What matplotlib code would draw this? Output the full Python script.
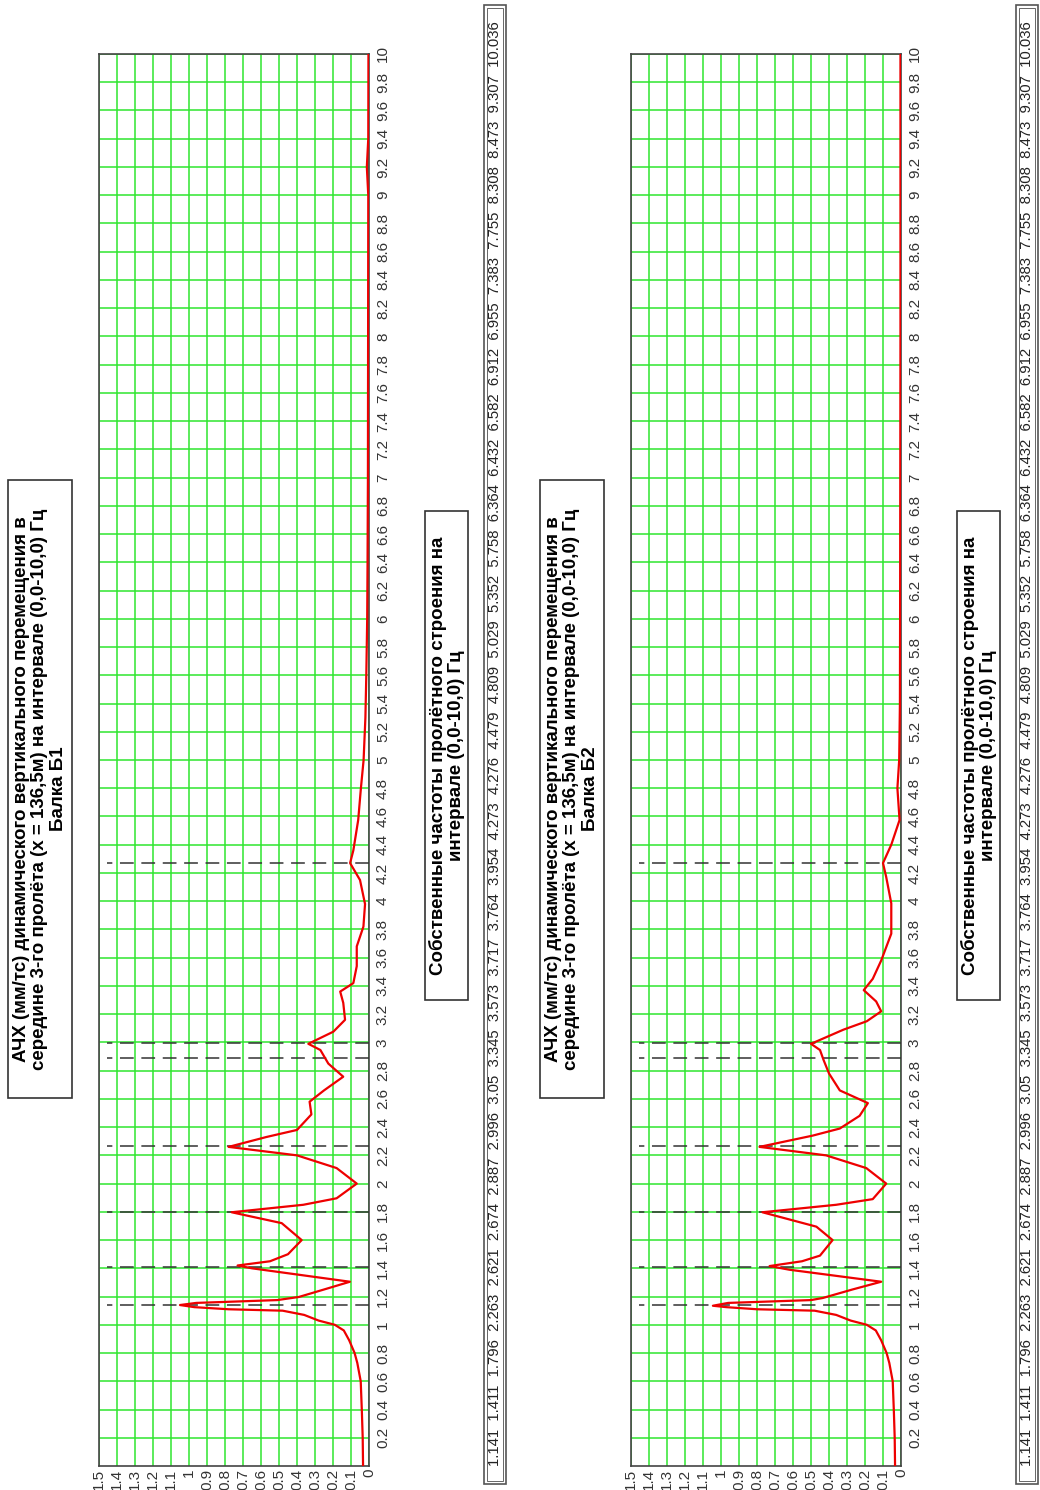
import numpy as np
import matplotlib.pyplot as plt
from matplotlib.patches import Rectangle

# frequency response, beam B1 (Hz -> mm/tc)
freq_b1 = [0, 0.2, 0.4, 0.6, 0.73, 0.8, 0.89, 0.96, 1.0, 1.03, 1.07, 1.1, 1.11, 1.125,
           1.14, 1.155, 1.175, 1.197, 1.25, 1.305, 1.40, 1.42, 1.45, 1.50, 1.60, 1.72,
           1.797, 1.85, 1.896, 2.0, 2.11, 2.2, 2.26, 2.33, 2.38, 2.49, 2.58, 2.66, 2.757,
           2.85, 2.946, 2.99, 3.076, 3.16, 3.28, 3.36, 3.42, 3.54, 3.68, 3.82, 3.98, 4.15,
           4.27, 4.36, 4.575, 4.8, 5.0, 5.3, 5.6, 6.0, 6.4, 7.0, 8.0, 9.0, 9.2, 9.4, 10.0]
amp_b1 = [0.033, 0.035, 0.04, 0.046, 0.065, 0.08, 0.11, 0.14, 0.19, 0.28, 0.36, 0.48,
          0.78, 0.97, 1.05, 0.96, 0.51, 0.39, 0.25, 0.106, 0.65, 0.73, 0.55, 0.45, 0.374,
          0.485, 0.763, 0.365, 0.18, 0.068, 0.18, 0.40, 0.78, 0.57, 0.40, 0.32, 0.33, 0.25,
          0.143, 0.226, 0.27, 0.337, 0.198, 0.133, 0.143, 0.16, 0.087, 0.068, 0.068, 0.031,
          0.022, 0.05, 0.105, 0.087, 0.06, 0.045, 0.03, 0.02, 0.015, 0.01, 0.008, 0.006,
          0.005, 0.004, 0.012, 0.004, 0.003]

# frequency response, beam B2
freq_b2 = [0, 0.2, 0.4, 0.6, 0.73, 0.8, 0.89, 0.96, 1.0, 1.03, 1.07, 1.1, 1.11, 1.125,
           1.135, 1.155, 1.175, 1.19, 1.25, 1.305, 1.39, 1.416, 1.45, 1.49, 1.60, 1.695,
           1.797, 1.85, 1.89, 2.0, 2.11, 2.2, 2.26, 2.34, 2.39, 2.48, 2.57, 2.66, 2.78,
           2.875, 2.946, 2.99, 3.09, 3.15, 3.22, 3.29, 3.37, 3.45, 3.58, 3.77, 3.985, 4.17,
           4.27, 4.40, 4.575, 4.8, 5.0, 5.4, 6.0, 7.0, 8.0, 9.0, 10.0]
amp_b2 = [0.033, 0.035, 0.04, 0.046, 0.065, 0.08, 0.11, 0.14, 0.19, 0.28, 0.36, 0.48,
          0.8, 0.97, 1.045, 0.96, 0.5, 0.434, 0.27, 0.11, 0.62, 0.73, 0.55, 0.45, 0.38,
          0.47, 0.77, 0.36, 0.157, 0.082, 0.193, 0.416, 0.786, 0.49, 0.34, 0.23, 0.184,
          0.34, 0.40, 0.43, 0.45, 0.50, 0.32, 0.19, 0.11, 0.138, 0.207, 0.157, 0.11, 0.054,
          0.054, 0.082, 0.10, 0.054, 0.008, 0.02, 0.01, 0.006, 0.005, 0.004, 0.003, 0.003,
          0.003]

# natural frequencies of the span structure
natural_freqs = [1.141, 1.411, 1.796, 2.263, 2.621, 2.674, 2.887, 2.996, 3.05, 3.345,
                 3.573, 3.717, 3.764, 3.954, 4.273, 4.276, 4.479, 4.809, 5.029, 5.352,
                 5.758, 6.364, 6.432, 6.582, 6.912, 6.955, 7.383, 7.755, 8.308, 8.473,
                 9.307, 10.036]
marked_freqs = [1.141, 1.411, 1.796, 2.263, 2.887, 2.996, 4.273]

amp_ticks = np.round(np.arange(0, 1.51, 0.1), 1)
freq_ticks = np.round(np.arange(0.2, 10.01, 0.2), 1)

titles = ["АЧХ (мм/тс) динамического вертикального перемещения в\n"
          "середине 3-го пролёта (x = 136,5м) на интервале (0,0-10,0) Гц\nБалка Б1",
          "АЧХ (мм/тс) динамического вертикального перемещения в\n"
          "середине 3-го пролёта (x = 136,5м) на интервале (0,0-10,0) Гц\nБалка Б2"]
freq_title = "Собственные частоты пролётного строения на\nинтервале (0,0-10,0) Гц"

W, H = 1040, 1490
narrow = ['Liberation Sans Narrow', 'Liberation Sans', 'DejaVu Sans']
bold_font = ['Liberation Sans', 'DejaVu Sans']


def px_rect(fig, x0, y0, x1, y1, lw=1.2, color='#333333'):
    # rectangle given in pixel coordinates measured from the top-left corner
    r = Rectangle((x0 / W, 1 - y1 / H), (x1 - x0) / W, (y1 - y0) / H,
                  transform=fig.transFigure, fill=False, lw=lw, ec=color)
    fig.add_artist(r)


def draw_panel(fig, dx, freq, amp, title):
    ax = fig.add_axes([(99 + dx) / W, 1 - 1466 / H, 270 / W, 1412 / H])
    ax.set_xlim(1.5, 0)
    ax.set_ylim(0, 10)
    ax.set_xticks(amp_ticks)
    ax.set_xticklabels(['%g' % v for v in amp_ticks], rotation=90,
                       family=narrow, fontsize=11, color='#333333')
    ax.set_yticks(freq_ticks)
    ax.set_yticklabels(['%g' % v for v in freq_ticks], rotation=90, va='center',
                       family=narrow, fontsize=11, color='#333333')
    ax.yaxis.tick_right()
    ax.tick_params(length=0)
    ax.tick_params(axis='x', pad=2)
    ax.tick_params(axis='y', pad=5)
    ax.grid(True, color='#2fe62f', lw=1.1)
    ax.set_axisbelow(True)
    for s in ax.spines.values():
        s.set_color('#444444')
        s.set_linewidth(1.2)

    ax.hlines(marked_freqs, 0, 1.456, colors='#333333', lw=1.1,
              linestyles=(0, (9, 5)), zorder=3)
    ax.plot(amp, freq, color='#ee0000', lw=1.6, zorder=4)

    # title box
    px_rect(fig, 8 + dx, 480, 72 + dx, 1098)
    fig.text((40 + dx) / W, 1 - 789 / H, title, rotation=90, ha='center', va='center',
             multialignment='center', family=bold_font, fontweight='bold',
             fontsize=13.5, linespacing=1.08)

    # natural frequencies caption
    px_rect(fig, 425 + dx, 511, 468 + dx, 1000)
    fig.text((446.5 + dx) / W, 1 - 755.5 / H, freq_title, rotation=90, ha='center',
             va='center', multialignment='center', family=bold_font,
             fontweight='bold', fontsize=13.5, linespacing=1.08)

    # strip with the list of natural frequencies
    px_rect(fig, 484 + dx, 5, 506 + dx, 1484, lw=1.2, color='#555555')
    px_rect(fig, 487 + dx, 8, 503 + dx, 1481, lw=0.7, color='#666666')
    fig.text((495 + dx) / W, 1 - 744 / H, '  '.join('%g' % v for v in natural_freqs),
             rotation=90, ha='center', va='center', family=narrow, fontsize=10.7,
             color='#222222')


fig = plt.figure(figsize=(W / 100, H / 100), dpi=100)
draw_panel(fig, 0, freq_b1, amp_b1, titles[0])
draw_panel(fig, 532, freq_b2, amp_b2, titles[1])
fig.savefig('out.png', dpi=100, facecolor='white')
